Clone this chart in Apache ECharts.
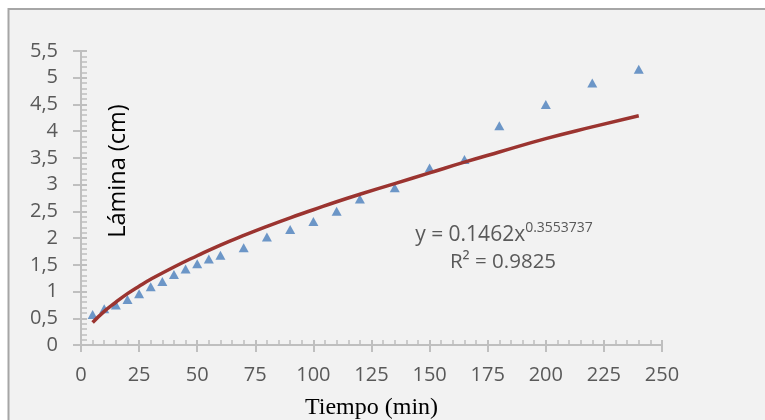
<!DOCTYPE html>
<html>
<head>
<meta charset="utf-8">
<script src="https://cdn.jsdelivr.net/npm/echarts@6/dist/echarts.min.js"></script>
<style>
html,body{margin:0;padding:0;background:#fff;}
#c{width:765px;height:420px;}
</style>
</head>
<body>
<div id="c"></div>
<script>
// Observed data (Tiempo in min, Lámina in cm)
const tiempo = [5,10,15,20,25,30,35,40,45,50,55,60,70,80,90,100,110,120,135,150,165,180,200,220,240];
const lamina = [0.57,0.68,0.75,0.85,0.96,1.09,1.19,1.32,1.42,1.52,1.61,1.68,1.82,2.02,2.16,2.31,2.50,2.73,2.94,3.31,3.47,4.10,4.50,4.90,5.16];
// Power trend line
const trendX = [5,10,15,20,25,30,40,50,60,70,80,90,100,110,120,135,150,165,180,200,220,240];
const trendY = [0.42,0.63,0.80,0.96,1.10,1.23,1.46,1.67,1.87,2.05,2.22,2.38,2.53,2.68,2.82,3.02,3.22,3.42,3.61,3.86,4.08,4.29];
const xTicks = [0,25,50,75,100,125,150,175,200,225,250];
const yTicks = [0,0.5,1,1.5,2,2.5,3,3.5,4,4.5,5,5.5];
const eqText = 'y = 0.1462x';
const eqExp = '0.3553737';
const r2Text = 'R² = 0.9825';
const xTitle = 'Tiempo (min)';
const yTitle = 'Lámina (cm)';

const points = tiempo.map((t,i)=>[t, lamina[i]]);
const trend = trendX.map((t,i)=>[t, trendY[i]]);
const axisCol = '#bfbfbf';
const lblFont = 'Open Sans';

const chart = echarts.init(document.getElementById('c'), null, {renderer:'canvas'});
chart.setOption({
  backgroundColor:'#ffffff',
  animation:false,
  grid:{left:81, right:103, top:51, bottom:75, containLabel:false, outerBoundsMode:'none'},
  xAxis:[
    {type:'value', min:xTicks[0], max:xTicks[xTicks.length-1], interval:25, position:'bottom',
     axisLine:{show:true, onZero:false, lineStyle:{color:axisCol, width:2}},
     axisTick:{show:true, inside:false, length:7, lineStyle:{color:axisCol, width:2}},
     axisLabel:{show:true, margin:20, color:'#595959', fontFamily:lblFont, fontSize:20},
     splitLine:{show:false},
     name:xTitle, nameLocation:'middle', nameGap:51,
     nameTextStyle:{fontFamily:'Liberation Serif', fontSize:24, color:'#000'}},
    {type:'value', min:xTicks[0], max:xTicks[xTicks.length-1], interval:25, position:'bottom',
     axisLine:{show:false, onZero:false},
     axisTick:{show:true, inside:true, length:5, lineStyle:{color:axisCol, width:2}},
     minorTick:{show:true, splitNumber:5, length:5, lineStyle:{color:axisCol, width:1.5}},
     axisLabel:{show:false}, splitLine:{show:false}}
  ],
  yAxis:[
    {type:'value', min:yTicks[0], max:yTicks[yTicks.length-1], interval:0.5, position:'left',
     axisLine:{show:true, onZero:false, lineStyle:{color:axisCol, width:2}},
     axisTick:{show:true, inside:false, length:8, lineStyle:{color:axisCol, width:2}},
     axisLabel:{show:true, margin:23, color:'#595959', fontFamily:lblFont, fontSize:20,
       formatter:v=>String(v).replace('.',',')},
     splitLine:{show:false}},
    {type:'value', min:yTicks[0], max:yTicks[yTicks.length-1], interval:0.5, position:'left',
     axisLine:{show:false, onZero:false},
     axisTick:{show:true, inside:true, length:6, lineStyle:{color:axisCol, width:2}},
     minorTick:{show:true, splitNumber:5, length:6, lineStyle:{color:axisCol, width:1.5}},
     axisLabel:{show:false}, splitLine:{show:false}}
  ],
  series:[
    {type:'scatter', name:'Lámina', xAxisIndex:0, yAxisIndex:0, data:points,
     symbol:'triangle', symbolSize:[10,9], itemStyle:{color:'#4a7ebb'}, z:3},
    {type:'line', name:'Tendencia', xAxisIndex:0, yAxisIndex:0, data:trend, smooth:true,
     showSymbol:false, symbol:'none', lineStyle:{color:'#9b3430', width:3.5}, z:4}
  ],
  graphic:[
    {type:'rect', z:-10, silent:true, shape:{x:8.5, y:9, width:900, height:600},
     style:{fill:'#f2f2f2', stroke:'#a6a6a6', lineWidth:2}},
    {type:'text', x:118, y:171, rotation:Math.PI/2, z:10,
     style:{text:yTitle, fontFamily:'Open Sans', fontSize:23.5, fill:'#000', align:'center', verticalAlign:'middle'}},
    {type:'text', x:504, y:235, z:10,
     style:{text:'{a|'+eqText+'}{s|'+eqExp+'}', align:'center', verticalAlign:'middle',
       rich:{a:{fontFamily:'Open Sans', fontSize:21, fill:'#595959', lineHeight:27},
             s:{fontFamily:'Open Sans', fontSize:14, fill:'#595959', lineHeight:16, verticalAlign:'top'}}}},
    {type:'text', x:503, y:262, z:10,
     style:{text:r2Text, fontFamily:'Open Sans', fontSize:20.5, fill:'#595959', align:'center', verticalAlign:'middle'}}
  ]
});
</script>
</body>
</html>
